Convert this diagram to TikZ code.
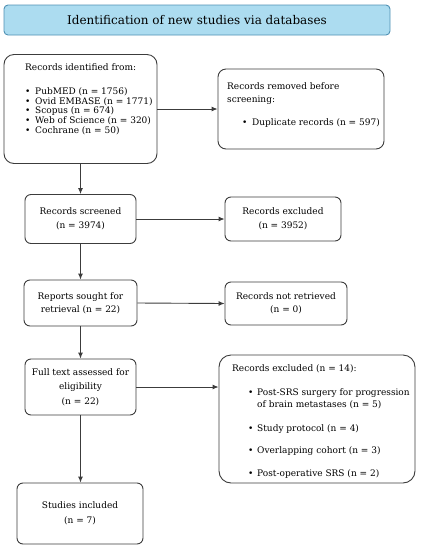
\documentclass[tikz,border=0pt]{standalone}
\usepackage{fontspec}
\setmainfont{DejaVu Serif}
\usetikzlibrary{arrows.meta}
\definecolor{boxline}{RGB}{60,60,60}
\definecolor{titlefill}{RGB}{172,220,240}
\definecolor{titleline}{RGB}{80,145,180}
\begin{document}
\begin{tikzpicture}[x=1pt,y=-1pt,
  box/.style={draw=boxline, line width=0.9pt, rounded corners=6pt, inner sep=0pt,
    align=center, font=\fontsize{9}{14}\selectfont},
  txt/.style={inner sep=0pt, font=\fontsize{9}{9.7}\selectfont},
  arr/.style={draw=boxline, line width=0.9pt, -{Latex[length=6pt,width=5pt]}}]
\useasboundingbox (0,0) rectangle (421,550);
% title
\node[box, draw=titleline, fill=titlefill, rounded corners=4pt,
  minimum width=386pt, minimum height=30pt, font=\fontsize{12}{14}\selectfont]
  (title) at (197,20) {Identification of new studies via databases};
% boxes
\node[box, rounded corners=10pt, minimum width=153pt, minimum height=109pt] (b1) at (80.5,109) {};
\node[box, rounded corners=8pt, minimum width=166pt, minimum height=80pt] (b2) at (301,109) {};
\node[box, minimum width=111pt, minimum height=49pt] (b3) at (80.5,219) {Records screened\\(n = 3974)};
\node[box, minimum width=116pt, minimum height=44pt] (b4) at (283,219) {Records excluded\\(n = 3952)};
\node[box, minimum width=113pt, minimum height=46pt, font=\fontsize{9}{13}\selectfont] (b5) at (80.5,303) {Reports sought for\\retrieval (n = 22)};
\node[box, minimum width=122pt, minimum height=43pt, font=\fontsize{9}{13}\selectfont] (b6) at (286,303.5) {Records not retrieved\\(n = 0)};
\node[box, minimum width=111pt, minimum height=56pt, font=\fontsize{9}{14.5}\selectfont] (b7) at (80.5,387) {Full text assessed for\\eligibility\\(n = 22)};
\node[box, rounded corners=12pt, minimum width=196pt, minimum height=128pt] (b8) at (317,419) {};
\node[box, minimum width=126pt, minimum height=61pt, font=\fontsize{9}{15}\selectfont] (b9) at (80,513.5) {Studies included\\(n = 7)};
% left-aligned texts
\node[txt, anchor=base west] (b1t) at (25,70) {\begin{tabular}[t]{@{}l@{}l@{}}
\multicolumn{2}{@{}l@{}}{Records identified from:}\\[14.6pt]
\makebox[10pt][l]{\textbullet} & PubMED (n = 1756)\\
\makebox[10pt][l]{\textbullet} & Ovid EMBASE (n = 1771)\\
\makebox[10pt][l]{\textbullet} & Scopus (n = 674)\\
\makebox[10pt][l]{\textbullet} & Web of Science (n = 320)\\
\makebox[10pt][l]{\textbullet} & Cochrane (n = 50)
\end{tabular}};
\node[txt, anchor=base west, font=\fontsize{9}{13}\selectfont] (b2t) at (227,89) {\begin{tabular}[t]{@{}l@{}l@{}}
\multicolumn{2}{@{}l@{}}{Records removed before}\\
\multicolumn{2}{@{}l@{}}{screening:}\\[10pt]
\hspace{15pt}\makebox[10pt][l]{\textbullet} & Duplicate records (n = 597)
\end{tabular}};
\node[txt, anchor=base west, font=\fontsize{9}{12}\selectfont] (b8t) at (232,371) {\begin{tabular}[t]{@{}l@{}l@{}}
\multicolumn{2}{@{}l@{}}{Records excluded (n = 14):}\\[12pt]
\hspace{16pt}\makebox[9pt][l]{\textbullet} & Post-SRS surgery for progression\\
 & of brain metastases (n = 5)\\[12pt]
\hspace{16pt}\makebox[9pt][l]{\textbullet} & Study protocol (n = 4)\\[10pt]
\hspace{16pt}\makebox[9pt][l]{\textbullet} & Overlapping cohort (n = 3)\\[11pt]
\hspace{16pt}\makebox[9pt][l]{\textbullet} & Post-operative SRS (n = 2)
\end{tabular}};
% connectors
\draw[arr] (b1.east) -- (b2.west);
\draw[arr] (b1.south) -- (b3.north);
\draw[arr] (b3.east) -- (b4.west);
\draw[arr] (b3.south) -- (b5.north);
\draw[arr] (b5.east) -- (b6.west);
\draw[arr] (b5.south) -- (b7.north);
\draw[arr] (b7.east) -- (b7.east -| b8.west);
\draw[arr] (b7.south) -- (b7.south |- b9.north);
\end{tikzpicture}
\end{document}
